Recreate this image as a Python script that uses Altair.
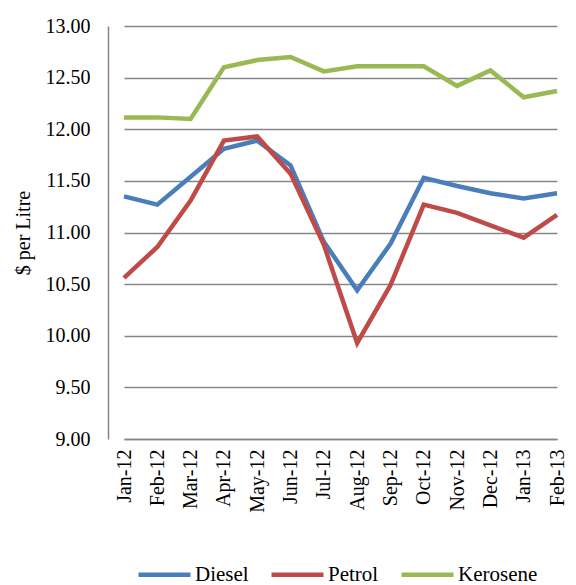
import altair as alt
import pandas as pd

months = ["Jan-12", "Feb-12", "Mar-12", "Apr-12", "May-12", "Jun-12", "Jul-12",
          "Aug-12", "Sep-12", "Oct-12", "Nov-12", "Dec-12", "Jan-13", "Feb-13"]
diesel = [11.35, 11.27, 11.54, 11.81, 11.89, 11.65, 10.91, 10.44, 10.89, 11.53, 11.45, 11.38, 11.33, 11.38]
petrol = [10.56, 10.86, 11.31, 11.89, 11.93, 11.57, 10.88, 9.93, 10.49, 11.27, 11.19, 11.07, 10.95, 11.17]
kerosene = [12.115, 12.115, 12.10, 12.60, 12.67, 12.70, 12.56, 12.61, 12.61, 12.61, 12.42, 12.57, 12.31, 12.37]
series = ["Diesel", "Petrol", "Kerosene"]
colors = ["#4a7ebb", "#be4b48", "#98b954"]

rows = []
for name, vals in zip(series, [diesel, petrol, kerosene]):
    for m, v in zip(months, vals):
        rows.append({"Month": m, "Fuel": name, "Price": v})
df = pd.DataFrame(rows)

font = "Times New Roman, Liberation Serif, serif"
grid = "#868686"

chart = alt.Chart(df).mark_line(strokeWidth=4.5).encode(
    x=alt.X("Month:N", sort=months, title=None,
            scale=alt.Scale(type="point", padding=0, range=[16, 449]),
            axis=alt.Axis(labelAngle=270, labelFont=font, labelFontSize=20, labelColor="black",
                          labelPadding=10, ticks=False, domainColor=grid, domainWidth=1.5,
                          grid=False, labelAlign="right", labelBaseline="middle")),
    y=alt.Y("Price:Q", title="$ per Litre",
            scale=alt.Scale(domain=[9, 13], nice=False, zero=False),
            axis=alt.Axis(values=[9, 9.5, 10, 10.5, 11, 11.5, 12, 12.5, 13], format=".2f",
                          labelFont=font, labelFontSize=20, labelColor="black", labelPadding=18,
                          ticks=False, domainColor=grid, domainWidth=1.5, gridColor=grid,
                          gridWidth=1.5, titleFont=font, titleFontSize=20, titleFontWeight="normal",
                          titleColor="black", titlePadding=12)),
    color=alt.Color("Fuel:N", sort=series,
                    scale=alt.Scale(domain=series, range=colors),
                    legend=alt.Legend(title=None, orient="none", legendX=28, legendY=520,
                                      direction="horizontal", symbolType="stroke",
                                      symbolSize=2700, symbolStrokeWidth=4.5,
                                      labelFont=font, labelFontSize=21, labelColor="black",
                                      labelOffset=2, columnPadding=13)),
).properties(
    width=460, height=413,
    autosize=alt.AutoSizeParams(type="none"),
    padding={"left": 100, "top": 18, "right": 0, "bottom": 146},
).configure(font=font).configure_legend(labelFont=font).configure_view(stroke=None)

chart.save("out.html", embed_options={"renderer": "svg", "actions": False})
